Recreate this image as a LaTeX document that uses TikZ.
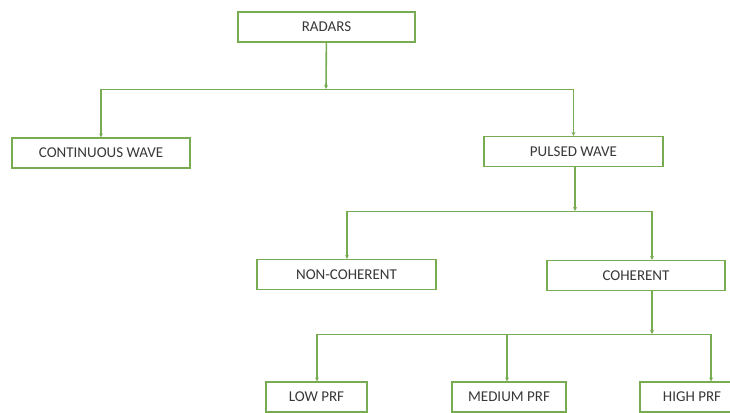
\documentclass[tikz,border=0pt]{standalone}
\usepackage{fontspec}
\setmainfont{Carlito}
\usetikzlibrary{arrows.meta}
\definecolor{boxgreen}{RGB}{120,172,82}
\definecolor{textgray}{RGB}{56,56,56}
\tikzset{
  box/.style={draw=boxgreen, line width=1.1pt, fill=white, minimum height=30pt,
    inner sep=0pt, text=textgray, font=\fontsize{15}{17}\selectfont},
  link/.style={draw=boxgreen, line width=1.6pt, -{Stealth[length=4pt,width=4pt]}},
  branch/.style={draw=boxgreen, line width=1pt},
}
\begin{document}
\begin{tikzpicture}[x=1pt,y=-1pt]
      \useasboundingbox (0,0) rectangle (730,412);
      \clip (0,0) rectangle (730,412);
      \draw
        (326.5,27) node[box, minimum width=177pt] (radars){RADARS}
        (101,153) node[box, minimum width=178pt] (cw){CONTINUOUS WAVE}
        (573.5,151.5) node[box, minimum width=179pt] (pw){PULSED WAVE}
        (346.5,274.5) node[box, minimum width=179pt] (nc){NON-COHERENT}
        (636,275.5) node[box, minimum width=178pt] (coh){COHERENT}
        (316.5,397) node[box, minimum width=101pt] (low){LOW PRF}
        (509,397) node[box, minimum width=114pt] (med){MEDIUM PRF}
        (692,397) node[box, minimum width=104pt] (high){HIGH PRF};
      % split points
      \coordinate (r-split) at (326,89);
      \coordinate (p-split) at (575,211);
      \coordinate (nc-top) at (347,211);
      \coordinate (coh-top) at (652,211);
      \coordinate (c-split) at (652,334);
      \coordinate (low-top) at (317,334);
      \coordinate (med-top) at (507,334);
      \coordinate (high-top) at (711,334);
      \begin{scope}[branch]
        \draw (cw.north |- r-split) -- (pw.north |- r-split);
        \draw (nc-top) -- (coh-top);
        \draw (low-top) -- (high-top);
      \end{scope}
      \begin{scope}[link]
        \draw (radars) -- (r-split);
        \draw (cw.north |- r-split) -- (cw);
        \draw (pw.north |- r-split) -- (pw);
        \draw (p-split |- pw.south) -- (p-split);
        \draw (nc-top) -- (nc-top |- nc.north);
        \draw (coh-top) -- (coh-top |- coh.north);
        \draw (c-split |- coh.south) -- (c-split);
        \draw (low-top) -- (low-top |- low.north);
        \draw (med-top) -- (med-top |- med.north);
        \draw (high-top) -- (high-top |- high.north);
      \end{scope}
    \end{tikzpicture}
\end{document}
